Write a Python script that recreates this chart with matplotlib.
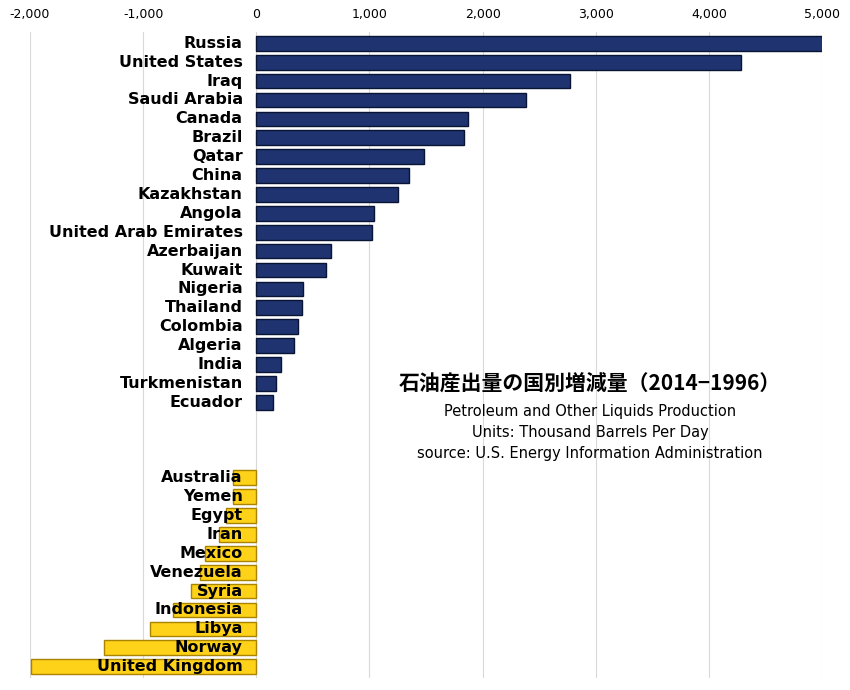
import matplotlib.pyplot as plt

pos_countries = ["Russia", "United States", "Iraq", "Saudi Arabia", "Canada", "Brazil",
                 "Qatar", "China", "Kazakhstan", "Angola", "United Arab Emirates",
                 "Azerbaijan", "Kuwait", "Nigeria", "Thailand", "Colombia", "Algeria",
                 "India", "Turkmenistan", "Ecuador"]
pos_values = [5090, 4280, 2770, 2380, 1870, 1840, 1480, 1350, 1250, 1040, 1020,
              660, 620, 415, 400, 370, 335, 220, 175, 150]
neg_countries = ["Australia", "Yemen", "Egypt", "Iran", "Mexico", "Venezuela", "Syria",
                 "Indonesia", "Libya", "Norway", "United Kingdom"]
neg_values = [-210, -210, -265, -330, -450, -495, -575, -735, -935, -1345, -1990]
xticks = [-2000, -1000, 0, 1000, 2000, 3000, 4000, 5000]

fig = plt.figure(figsize=(8.5, 6.9), dpi=100)
ax = fig.add_axes([30 / 850, 12 / 690, 792 / 850, 646 / 690])

pos_y = list(range(len(pos_countries)))
neg_y = [len(pos_countries) + 3 + i for i in range(len(neg_countries))]

ax.barh(pos_y, pos_values, height=0.78, color="#1f3370", edgecolor="#0a1433", linewidth=1)
ax.barh(neg_y, neg_values, height=0.78, color="#ffd21a", edgecolor="#a88400", linewidth=1)

for y, name in zip(pos_y + neg_y, pos_countries + neg_countries):
    ax.text(-120, y, name, ha="right", va="center", fontsize=11.5, fontweight="bold",
            color="black", zorder=5)

ax.set_xlim(-2000, 5000)
ax.set_ylim(neg_y[-1] + 0.6, -0.6)
ax.set_xticks(xticks)
ax.set_xticklabels([f"{v:,}" for v in xticks], fontsize=9)
ax.xaxis.tick_top()
ax.tick_params(axis="x", length=0, pad=8)
ax.set_yticks([])
ax.grid(axis="x", color="#d9d9d9", linewidth=0.8)
ax.set_axisbelow(True)
for s in ax.spines.values():
    s.set_visible(False)

ax.text(2950, 18.0, "石油産出量の国別増減量（2014−1996）", ha="center", va="center",
        fontsize=15, fontweight="bold", fontfamily="Noto Sans CJK JP")
for i, line in enumerate(["Petroleum and Other Liquids Production",
                          "Units: Thousand Barrels Per Day",
                          "source: U.S. Energy Information Administration"]):
    ax.text(2950, 19.5 + i * 1.12, line, ha="center", va="center", fontsize=10.5)

fig.savefig("out.png", dpi=100)
